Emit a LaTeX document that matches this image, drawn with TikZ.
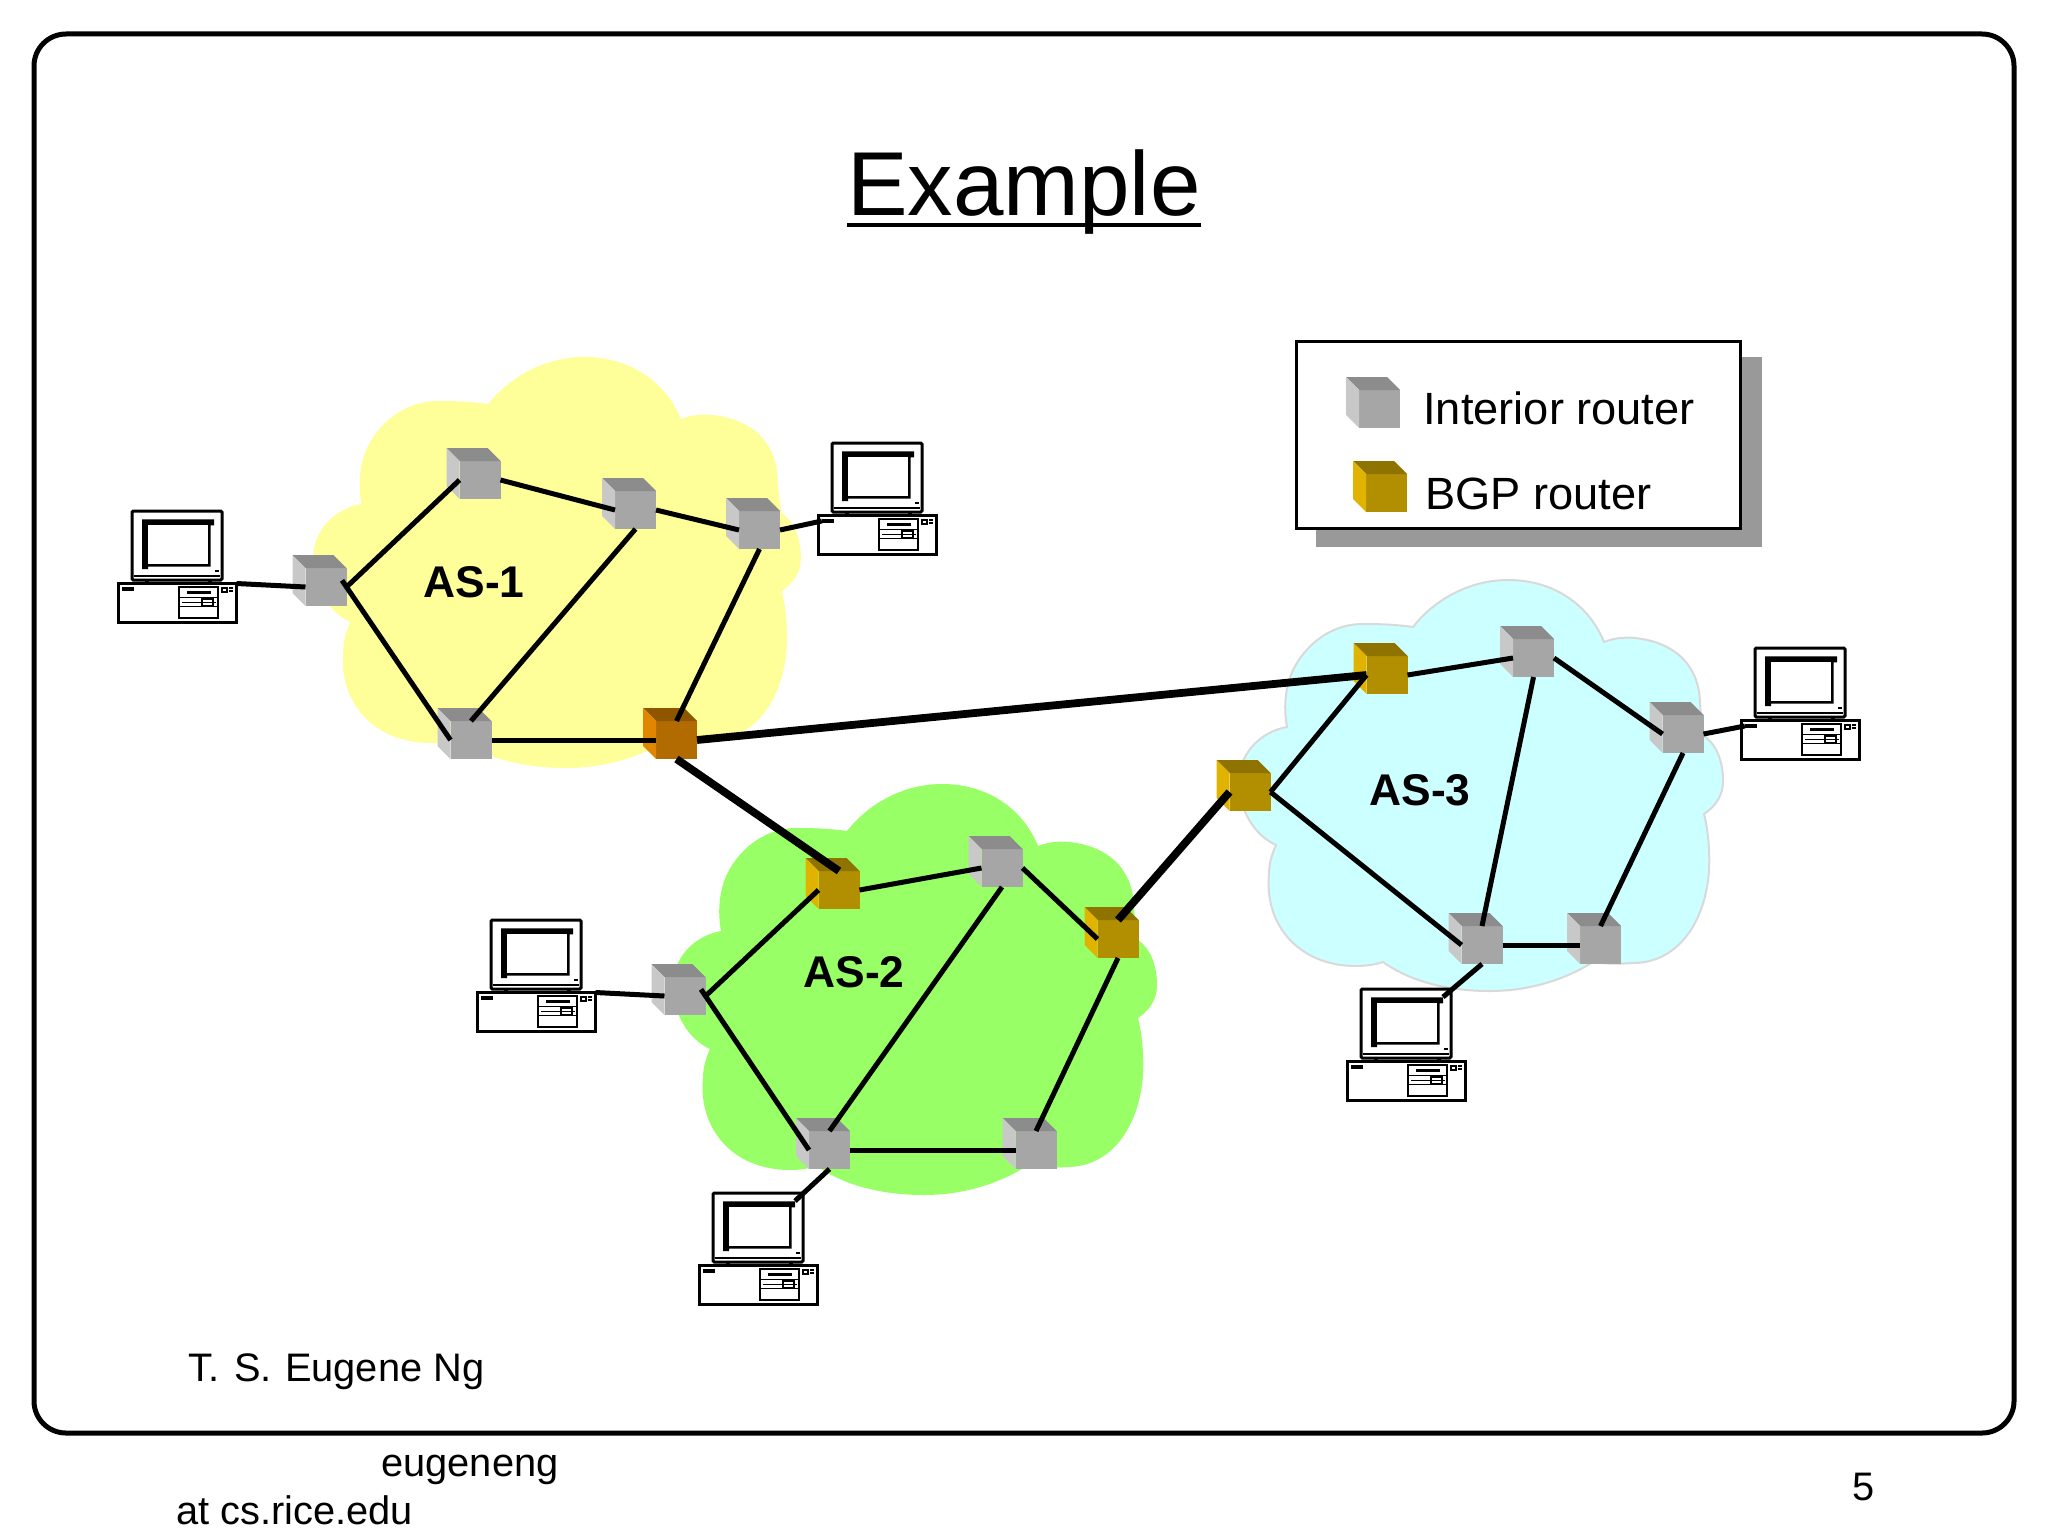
\documentclass[tikz,border=0pt]{standalone}
\usepackage{fontspec}
\setmainfont{Liberation Sans}
\usetikzlibrary{calc}

\definecolor{greyfront}{HTML}{A6A6A6}
\definecolor{greytop}{HTML}{8C8C8C}
\definecolor{greyside}{HTML}{C8C8C8}
\definecolor{bgpfront}{HTML}{B28F00}
\definecolor{bgptop}{HTML}{8F7300}
\definecolor{bgpside}{HTML}{E0B300}
\definecolor{hotfront}{HTML}{B26B00}
\definecolor{hottop}{HTML}{8F5600}
\definecolor{hotside}{HTML}{E08600}
\definecolor{cloudone}{HTML}{FFFF99}
\definecolor{cloudtwo}{HTML}{99FF66}
\definecolor{cloudthree}{HTML}{CCFFFF}

\tikzset{
  frontface/.style={rectangle, minimum width=20.5pt, minimum height=19pt, inner sep=0pt, outer sep=0pt},
  link/.style={line width=2.5pt},
  biglink/.style={line width=3.9pt},
  aslabel/.style={font=\fontsize{22.2}{26}\selectfont\bfseries},
  legendtext/.style={anchor=base west, inner sep=0pt, font=\fontsize{22.6}{26}\selectfont},
  foottext/.style={anchor=base west, inner sep=0pt, font=\fontsize{19.9}{24}\selectfont},
  pcline/.style={draw=black, line width=1.5pt, fill=white},
  pcthin/.style={draw=black, line width=0.7pt},
}

% one cube, the node is its front face
\newcommand{\routerbox}[4]{
  \node[frontface, fill=#4front] (#1) at (#2,#3) {};
  \fill[#4top] (#1.north west) -- ++(-13,-13) -- ++(41,0) -- (#1.north east) -- cycle;
  \fill[#4side] (#1.north west) -- ++(-13,-13) -- ++(0,38) -- (#1.south west) -- cycle;
}

% one computer, x and y are its top left corner
\newcommand{\pcbox}[3]{
  \begin{scope}[shift={(#2,#3)}]
    \draw[pcline, rounded corners=0.6pt] (14,1) rectangle (104,70);
    \fill (27,70) rectangle (31,73);
    \fill (90,70) rectangle (94,73);
    \draw[pcthin] (16,66) -- (102,66);
    \node[rectangle, minimum width=36pt, minimum height=25pt, inner sep=0pt, outer sep=0pt] (#1s) at (60,34) {};
    \fill (24,9.3) -- (96,9.3) -- (96,15.3) -- (92.5,15.3) -- (92.5,56.7) -- (30,56.7) -- (30,59) -- (24,59) -- cycle;
    \fill[white] (30,15.3) rectangle (90.3,54);
    \fill (97,60) rectangle (101,62);
    \node[pcline, rectangle, minimum width=59pt, minimum height=19.5pt, inner sep=0pt, outer sep=0pt] (#1) at (59.5,93) {};
    \node[rectangle, fill=black, minimum width=6.2pt, minimum height=2.2pt, inner sep=0pt, outer sep=0pt] (#1l) at (10,79) {};
    \draw[pcthin] (61,77) rectangle (100,108);
    \fill (69,81) rectangle (93,84);
    \draw[pcthin] (61,87.7) -- (100,87.7);
    \draw[pcthin] (61,96.7) -- (100,96.7);
    \draw[pcthin] (64,92.7) -- (98,92.7);
    \draw[pcthin] (84,89) rectangle (95,96);
    \draw[pcthin] (104,78) rectangle (109,82);
    \fill (111,77) rectangle (115,79);
    \fill (111,80) rectangle (115,82);
  \end{scope}
}

% the three clouds have the same outline
\newcommand{\cloudshape}{
  (174,47) .. controls (195,20) and (230,0) .. (269,0)
  .. controls (315,0) and (350,25) .. (365,62)
  .. controls (375,58) and (385,57) .. (396,58)
  .. controls (435,62) and (461,85) .. (461,125)
  .. controls (462,135) and (463,145) .. (465,156)
  .. controls (478,165) and (484,182) .. (484,201)
  .. controls (484,215) and (477,226) .. (465,234)
  .. controls (469,250) and (471,270) .. (470,290)
  .. controls (467,340) and (440,383) .. (394,383)
  .. controls (380,384) and (367,384) .. (354,382)
  .. controls (325,400) and (290,411) .. (251,411)
  .. controls (210,411) and (172,402) .. (144,382)
  .. controls (135,385) and (125,386) .. (117,386)
  .. controls (60,386) and (25,345) .. (30,294)
  .. controls (30,283) and (33,274) .. (37,265)
  .. controls (15,255) and (0,230) .. (0,201)
  .. controls (0,175) and (20,152) .. (48,147)
  .. controls (45,130) and (45,110) .. (54,90)
  .. controls (68,62) and (95,43) .. (126,44)
  .. controls (145,44) and (160,45) .. (174,47) -- cycle
}

\begin{document}
\begin{tikzpicture}[x=0.5pt,y=-0.5pt]
\useasboundingbox (0,0) rectangle (2048,1536);
\fill[white] (0,0) rectangle (2048,1536);

\draw[line width=2.5pt, rounded corners=16pt] (34,34) rectangle (2014,1433);

\node[anchor=base, inner sep=0pt, font=\fontsize{45.4}{54}\selectfont] (title) at (1024,215) {Example};
\draw[line width=2.4pt] ([yshift=-5pt]title.base west) -- ([yshift=-5pt]title.base east);

% clouds
\fill[shift={(313,357)}, xscale=1.008, fill=cloudone] \cloudshape;
\fill[shift={(673,784)}, fill=cloudtwo] \cloudshape;
\draw[shift={(1239,580)}, draw=black!15!white, line width=1pt, fill=cloudthree] \cloudshape;

% legend
\fill[black!40!white] (1316,357) rectangle (1762,547);
\node[rectangle, draw, line width=1.5pt, fill=white, minimum width=222pt, minimum height=93.5pt, inner sep=0pt, outer sep=0pt] (legend) at (1518,434.5) {};
\routerbox{keygrey}{1379.5}{409}{grey}
\routerbox{keybgp}{1386.5}{493}{bgp}
\node[legendtext] (keygreytext) at (1423,424) {Interior router};
\node[legendtext] (keybgptext) at (1425,509) {BGP router};

% AS-1
\routerbox{ra}{326}{587}{grey}
\routerbox{rb}{480}{480}{grey}
\routerbox{rc}{635.5}{510}{grey}
\routerbox{rd}{759.5}{530}{grey}
\routerbox{re}{471}{740}{grey}
\routerbox{rf}{676.5}{740}{hot}

% AS-2
\routerbox{sa}{839}{890}{bgp}
\routerbox{sb}{1002}{868}{grey}
\routerbox{sc}{1118}{939}{bgp}
\routerbox{sd}{685}{996}{grey}
\routerbox{se}{829.5}{1150}{grey}
\routerbox{sf}{1036}{1150}{grey}

% AS-3
\routerbox{ta}{1250}{792}{bgp}
\routerbox{tb}{1387}{675}{bgp}
\routerbox{tc}{1533.5}{658}{grey}
\routerbox{td}{1683}{734}{grey}
\routerbox{te}{1482}{945}{grey}
\routerbox{tf}{1600.5}{945}{grey}

\pcbox{pca}{118}{510}
\pcbox{pcb}{818}{442}
\pcbox{pcc}{477}{919}
\pcbox{pcd}{699}{1192}
\pcbox{pce}{1741}{647}
\pcbox{pcf}{1347}{988}

\draw[link] (ra.east) -- (rb.west);
\draw[link, shorten <=-4pt] (ra.east) -- (re.west);
\draw[link] (rb.east) -- (rc.west);
\draw[link] (rc.east) -- (rd.west);
\draw[link] (rc.south) -- (re.north);
\draw[link] (rd.south) -- (rf.north);
\draw[link] (re.east) -- (rf.west);
\draw[link] (ra.west) -- (pca.north east);
\draw[link] (rd.east) -- (pcbl.west);

\draw[link] (sa.east) -- (sb.west);
\draw[link] (sd.east) -- (sa.west);
\draw[link, shorten <=-4pt] (sd.east) -- (se.west);
\draw[link] (sb.south) -- (se.north);
\draw[link] (sb.east) -- (sc.west);
\draw[link] (sc.south) -- (sf.north);
\draw[link] (se.east) -- (sf.west);
\draw[link] (se.south) -- (pcds.north east);
\draw[link] (sd.west) -- (pcc.north east);

\draw[link] (tb.east) -- (tc.west);
\draw[link] (tb.west) -- (ta.east);
\draw[link] (ta.east) -- (te.west);
\draw[link] (tc.south) -- (te.north);
\draw[link] (tc.east) -- (td.west);
\draw[link] (td.south) -- (tf.north);
\draw[link] (te.east) -- (tf.west);
\draw[link] (td.east) -- (pcel.west);
\draw[link] (te.south) -- (pcfs.north east);

\draw[biglink] (rf.east) -- (tb.west);
\draw[biglink] (rf.south) -- (sa.north);
\draw[biglink] (sc.north) -- (ta.west);

\node[aslabel] (asone) at (474,582) {AS-1};
\node[aslabel] (astwo) at (854,972) {AS-2};
\node[aslabel] (asthree) at (1420,790) {AS-3};

\node[foottext] (author) at (188,1381) {T.\kern2pt\ S.\kern1pt\ Eugene Ng};
\node[foottext] (mail) at (381,1476) {eugeneng};
\node[foottext] (host) at (176,1524) {at cs.rice.edu};
\node[foottext] (page) at (1852,1500) {5};
\end{tikzpicture}
\end{document}
